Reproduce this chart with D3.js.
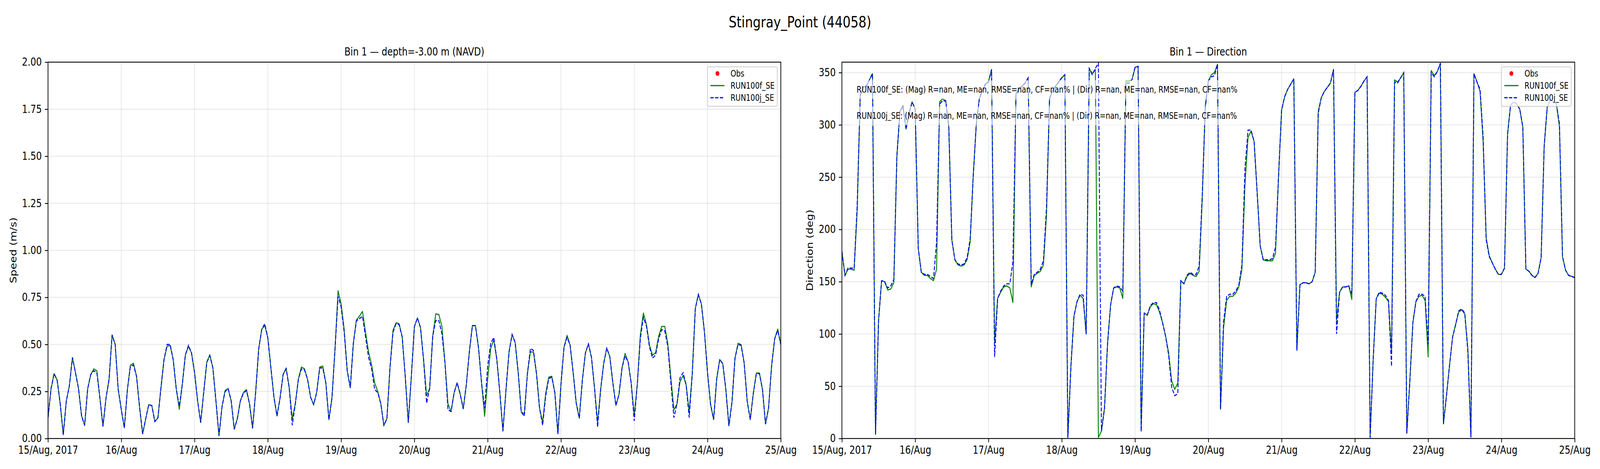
<!DOCTYPE html>
<html>
  <head>
    <meta charset="UTF-8" />
    <style>
      html,
      body {
        margin: 0;
        background: #fff;
        overflow: hidden;
      }
      svg {
        display: block;
        width: 100vw;
        height: 100vh;
        font-family: 'DejaVu Sans', sans-serif;
      }
    </style>
  </head>
  <body>
    <svg></svg>

    <script src="https://d3js.org/d3.v7.min.js"></script>

    <script>
      let width = 5000,
        height = 1200

      let stationTitle = 'Stingray_Point (44058)'
      let speedTitle = 'Bin 1 \u2014 depth=-3.00 m (NAVD)'
      let dirTitle = 'Bin 1 \u2014 Direction'
      let legendNames = ['Obs', 'RUN100f_SE', 'RUN100j_SE']
      let statLines = [
        'RUN100f_SE: (Mag) R=nan, ME=nan, RMSE=nan, CF=nan% | (Dir) R=nan, ME=nan, RMSE=nan, CF=nan%',
        'RUN100j_SE: (Mag) R=nan, ME=nan, RMSE=nan, CF=nan% | (Dir) R=nan, ME=nan, RMSE=nan, CF=nan%',
      ]

      let dayLabels = ['15/Aug, 2017', '16/Aug', '17/Aug', '18/Aug', '19/Aug', '20/Aug', '21/Aug', '22/Aug', '23/Aug', '24/Aug', '25/Aug']
      let speedTicks = [0, 0.25, 0.5, 0.75, 1, 1.25, 1.5, 1.75, 2]
      let dirTicks = [0, 50, 100, 150, 200, 250, 300, 350]

      // hourly values, 15/Aug 00:00 -> 25/Aug 00:00 (one row per day)
      let obsSpeed = []
      let obsDir = []

      let speedF = [
        0.11, 0.265, 0.345, 0.31, 0.185, 0.02, 0.2, 0.28, 0.43, 0.35, 0.265, 0.12, 0.07, 0.265, 0.34, 0.37, 0.36, 0.215, 0.065, 0.215, 0.315, 0.55, 0.5, 0.26,
        0.155, 0.057, 0.26, 0.39, 0.4, 0.33, 0.165, 0.025, 0.105, 0.18, 0.175, 0.09, 0.11, 0.27, 0.42, 0.49, 0.495, 0.42, 0.265, 0.155, 0.29, 0.445, 0.49, 0.455,
        0.35, 0.2, 0.085, 0.245, 0.405, 0.445, 0.375, 0.2, 0.015, 0.17, 0.255, 0.265, 0.2, 0.05, 0.105, 0.2, 0.245, 0.26, 0.185, 0.055, 0.245, 0.475, 0.58, 0.6,
        0.535, 0.375, 0.22, 0.12, 0.215, 0.34, 0.375, 0.27, 0.105, 0.185, 0.315, 0.38, 0.37, 0.315, 0.22, 0.18, 0.245, 0.38, 0.385, 0.295, 0.1, 0.215, 0.475, 0.785,
        0.715, 0.58, 0.36, 0.27, 0.505, 0.63, 0.65, 0.675, 0.565, 0.46, 0.39, 0.295, 0.25, 0.185, 0.07, 0.105, 0.375, 0.575, 0.615, 0.61, 0.54, 0.33, 0.085, 0.33,
        0.595, 0.641, 0.589, 0.42, 0.227, 0.267, 0.544, 0.662, 0.659, 0.596, 0.406, 0.184, 0.143, 0.243, 0.296, 0.236, 0.158, 0.285, 0.461, 0.6, 0.6, 0.482, 0.295, 0.118,
        0.316, 0.479, 0.524, 0.42, 0.24, 0.04, 0.26, 0.461, 0.553, 0.51, 0.35, 0.141, 0.132, 0.343, 0.461, 0.459, 0.343, 0.16, 0.087, 0.24, 0.326, 0.331, 0.243, 0.025,
        0.288, 0.485, 0.548, 0.496, 0.35, 0.188, 0.108, 0.309, 0.454, 0.503, 0.43, 0.267, 0.085, 0.26, 0.399, 0.48, 0.435, 0.295, 0.176, 0.233, 0.375, 0.452, 0.407, 0.295,
        0.122, 0.288, 0.551, 0.667, 0.607, 0.496, 0.443, 0.456, 0.544, 0.596, 0.596, 0.503, 0.323, 0.153, 0.184, 0.302, 0.335, 0.285, 0.143, 0.343, 0.69, 0.766, 0.714, 0.565,
        0.35, 0.181, 0.101, 0.316, 0.42, 0.397, 0.26, 0.068, 0.191, 0.427, 0.506, 0.499, 0.402, 0.198, 0.101, 0.24, 0.348, 0.348, 0.26, 0.077, 0.163, 0.389, 0.53, 0.582,
        0.499,
      ]

      let speedJ = [
        0.11, 0.265, 0.345, 0.31, 0.185, 0.02, 0.2, 0.28, 0.43, 0.35, 0.265, 0.12, 0.07, 0.265, 0.34, 0.36, 0.35, 0.215, 0.065, 0.215, 0.315, 0.55, 0.5, 0.26,
        0.155, 0.057, 0.26, 0.385, 0.39, 0.33, 0.165, 0.025, 0.105, 0.18, 0.175, 0.09, 0.11, 0.27, 0.42, 0.5, 0.5, 0.42, 0.265, 0.17, 0.29, 0.445, 0.495, 0.455,
        0.35, 0.2, 0.085, 0.245, 0.405, 0.44, 0.375, 0.2, 0.015, 0.17, 0.25, 0.265, 0.2, 0.05, 0.105, 0.2, 0.24, 0.255, 0.185, 0.055, 0.245, 0.475, 0.58, 0.61,
        0.535, 0.375, 0.22, 0.12, 0.215, 0.34, 0.37, 0.27, 0.07, 0.185, 0.315, 0.37, 0.365, 0.315, 0.22, 0.18, 0.245, 0.375, 0.375, 0.295, 0.1, 0.215, 0.475, 0.755,
        0.7, 0.565, 0.36, 0.27, 0.505, 0.625, 0.637, 0.65, 0.54, 0.43, 0.37, 0.26, 0.245, 0.185, 0.07, 0.105, 0.375, 0.565, 0.61, 0.605, 0.54, 0.33, 0.085, 0.33,
        0.595, 0.641, 0.589, 0.42, 0.188, 0.267, 0.544, 0.627, 0.627, 0.558, 0.406, 0.153, 0.143, 0.243, 0.296, 0.236, 0.158, 0.285, 0.461, 0.6, 0.6, 0.482, 0.295, 0.16,
        0.385, 0.506, 0.537, 0.42, 0.24, 0.04, 0.26, 0.461, 0.553, 0.51, 0.35, 0.141, 0.118, 0.343, 0.479, 0.468, 0.343, 0.16, 0.07, 0.226, 0.319, 0.326, 0.243, 0.025,
        0.288, 0.485, 0.537, 0.496, 0.35, 0.188, 0.108, 0.309, 0.454, 0.503, 0.43, 0.267, 0.06, 0.26, 0.399, 0.48, 0.435, 0.295, 0.176, 0.233, 0.375, 0.44, 0.407, 0.295,
        0.094, 0.288, 0.53, 0.645, 0.596, 0.485, 0.427, 0.444, 0.53, 0.579, 0.572, 0.489, 0.295, 0.111, 0.184, 0.323, 0.35, 0.285, 0.111, 0.343, 0.69, 0.766, 0.714, 0.565,
        0.35, 0.181, 0.101, 0.316, 0.42, 0.397, 0.26, 0.068, 0.191, 0.427, 0.5, 0.495, 0.402, 0.198, 0.101, 0.24, 0.345, 0.345, 0.26, 0.077, 0.163, 0.389, 0.53, 0.575,
        0.499,
      ]

      let dirF = [
        179, 156, 162, 162, 161, 218, 328, 336, 337, 343, 349, 4, 113, 151, 150, 142, 143, 149, 270, 313, 318, 296, 311, 322,
        315, 182, 159, 156, 156, 153, 151, 162, 322, 325, 323, 298, 190, 171, 166, 165, 166, 171, 188, 251, 300, 325, 333, 339,
        341, 353, 92, 134, 140, 145, 146, 144, 130, 330, 334, 337, 340, 345, 145, 156, 158, 160, 166, 214, 325, 333, 337, 341,
        345, 348, 1, 69, 117, 131, 137, 134, 100, 354, 349, 353, 1, 7, 29, 91, 128, 144, 145, 144, 134, 342, 342, 343,
        355, 356, 7, 120, 118, 126, 129, 128, 121, 111, 98, 82, 55, 47, 53, 151, 148, 155, 158, 156, 155, 160, 228, 318,
        342, 348, 350, 358, 28, 106, 132, 136, 136, 139, 145, 162, 242, 288, 294, 284, 235, 184, 171, 170, 170, 170, 177, 251,
        314, 327, 334, 339, 344, 85, 147, 149, 149, 148, 150, 159, 313, 326, 332, 336, 340, 353, 113, 140, 145, 145, 146, 133,
        331, 333, 337, 342, 346, 1, 76, 134, 139, 138, 135, 131, 83, 343, 341, 345, 350, 5, 55, 111, 131, 136, 137, 132,
        78, 352, 347, 351, 359, 14, 41, 70, 97, 109, 121, 123, 119, 86, 2, 349, 341, 332, 284, 192, 175, 168, 162, 157,
        157, 163, 291, 319, 322, 320, 315, 298, 162, 160, 156, 154, 158, 173, 280, 317, 324, 322, 320, 298, 174, 161, 156, 155,
        154,
      ]

      let dirJ = [
        179, 156, 163, 163, 163, 223, 328, 336, 337, 343, 349, 4, 113, 151, 150, 144, 146, 152, 270, 313, 318, 296, 311, 322,
        315, 182, 159, 157, 157, 155, 153, 188, 320, 323, 323, 298, 190, 171, 167, 166, 167, 173, 191, 251, 300, 325, 333, 339,
        341, 353, 78, 134, 141, 146, 148, 148, 169, 328, 334, 337, 340, 345, 147, 157, 159, 162, 170, 221, 325, 333, 337, 341,
        345, 348, 1, 69, 117, 131, 138, 137, 100, 354, 348, 354, 359, 7, 29, 91, 128, 144, 146, 145, 141, 340, 340, 343,
        355, 356, 7, 120, 118, 127, 130, 130, 123, 111, 98, 80, 49, 41, 43, 151, 148, 156, 159, 157, 157, 165, 232, 316,
        342, 346, 347, 358, 28, 112, 136, 138, 138, 141, 147, 166, 258, 295, 295, 284, 235, 184, 171, 171, 171, 172, 183, 251,
        314, 327, 334, 339, 344, 84, 147, 149, 149, 148, 150, 159, 311, 326, 332, 336, 340, 353, 100, 140, 145, 145, 146, 138,
        331, 333, 337, 342, 346, 1, 76, 134, 140, 139, 137, 132, 69, 341, 340, 345, 350, 5, 55, 111, 131, 138, 138, 136,
        90, 350, 346, 351, 359, 14, 41, 70, 97, 109, 122, 124, 120, 83, 1, 349, 341, 334, 289, 190, 174, 168, 162, 157,
        157, 163, 291, 319, 322, 320, 315, 298, 162, 160, 156, 154, 158, 173, 280, 317, 324, 322, 320, 301, 174, 161, 156, 155,
        154,
      ]

      let times = speedF.map((d, i) => new Date(Date.UTC(2017, 7, 15, i)))
      let dayTicks = dayLabels.map((d, i) => new Date(Date.UTC(2017, 7, 15 + i)))

      let panelW = 2290,
        panelH = 963,
        panelTop = 159,
        tickLen = 9.7,
        fontTick = 27.8,
        fontSmall = 22.2,
        lw = 2.8

      // the drawing is laid out at 5000x1200 and stretched to the viewport
      let svg = d3
        .select('svg')
        .attr('viewBox', '0 0 ' + width + ' ' + height)
        .attr('preserveAspectRatio', 'none')

      svg
        .append('text')
        .attr('x', width / 2)
        .attr('y', 70)
        .attr('text-anchor', 'middle')
        .attr('font-size', 38.9)
        .text(stationTitle)

      let x = d3
        .scaleUtc()
        .domain([dayTicks[0], dayTicks[dayTicks.length - 1]])
        .range([0, panelW])

      function drawPanel(opt) {
        let g = svg
          .append('g')
          .attr('transform', 'translate(' + opt.left + ',' + panelTop + ')')
        let y = d3.scaleLinear().domain(opt.domain).range([panelH, 0])

        g.append('clipPath')
          .attr('id', opt.id + '-clip')
          .append('rect')
          .attr('width', panelW)
          .attr('height', panelH)

        // grid
        let grid = g.append('g').attr('stroke', '#b0b0b0').attr('stroke-opacity', 0.3).attr('stroke-width', 2.2)
        grid
          .selectAll('.gx')
          .data(dayTicks)
          .enter()
          .append('line')
          .attr('x1', (d) => x(d))
          .attr('x2', (d) => x(d))
          .attr('y1', 0)
          .attr('y2', panelH)
        grid
          .selectAll('.gy')
          .data(opt.ticks)
          .enter()
          .append('line')
          .attr('x1', 0)
          .attr('x2', panelW)
          .attr('y1', (d) => y(d))
          .attr('y2', (d) => y(d))

        let line = d3
          .line()
          .x((d, i) => x(times[i]))
          .y((d) => y(d))

        let plot = g.append('g').attr('clip-path', 'url(#' + opt.id + '-clip)')
        plot
          .selectAll('circle')
          .data(opt.obs)
          .enter()
          .append('circle')
          .attr('cx', (d, i) => x(times[i]))
          .attr('cy', (d) => y(d))
          .attr('r', 6)
          .attr('fill', 'red')
        plot
          .append('path')
          .attr('d', line(opt.f))
          .attr('fill', 'none')
          .attr('stroke', 'green')
          .attr('stroke-width', lw)
          .attr('stroke-linejoin', 'round')
        plot
          .append('path')
          .attr('d', line(opt.j))
          .attr('fill', 'none')
          .attr('stroke', 'blue')
          .attr('stroke-width', lw)
          .attr('stroke-dasharray', '10.3,4.4')

        // axes
        let xAxis = d3
          .axisBottom(x)
          .tickValues(dayTicks)
          .tickFormat((d, i) => dayLabels[i])
          .tickSize(tickLen)
          .tickPadding(tickLen)
        let yAxis = d3
          .axisLeft(y)
          .tickValues(opt.ticks)
          .tickFormat(opt.format)
          .tickSize(tickLen)
          .tickPadding(tickLen)

        g.append('g')
          .attr('transform', 'translate(0,' + panelH + ')')
          .call(xAxis)
          .call((a) => a.select('.domain').remove())
          .attr('font-size', fontTick)
          .attr('font-family', null)
          .call((a) => a.selectAll('line').attr('stroke-width', 2.2))
        g.append('g')
          .call(yAxis)
          .call((a) => a.select('.domain').remove())
          .attr('font-size', fontTick)
          .attr('font-family', null)
          .call((a) => a.selectAll('line').attr('stroke-width', 2.2))

        g.append('rect')
          .attr('width', panelW)
          .attr('height', panelH)
          .attr('fill', 'none')
          .attr('stroke', 'black')
          .attr('stroke-width', 2.2)

        g.append('text')
          .attr('x', panelW / 2)
          .attr('y', -17)
          .attr('text-anchor', 'middle')
          .attr('font-size', fontTick)
          .text(opt.title)

        g.append('text')
          .attr('transform', 'translate(' + opt.labelX + ',' + panelH / 2 + ') rotate(-90)')
          .attr('text-anchor', 'middle')
          .attr('font-size', fontTick)
          .text(opt.label)

        // stats boxes
        if (opt.stats) {
          opt.stats.forEach((s, i) => {
            let sg = g.append('g')
            let t = sg
              .append('text')
              .attr('x', 46)
              .attr('y', 78 + i * 67)
              .attr('font-size', fontSmall)
              .text(s)
            let bb = t.node().getBBox()
            sg.insert('rect', 'text')
              .attr('x', bb.x - 11)
              .attr('y', bb.y - 11)
              .attr('width', bb.width + 22)
              .attr('height', bb.height + 22)
              .attr('fill', 'white')
              .attr('fill-opacity', 0.6)
          })
        }

        // legend
        let lg = g.append('g').attr('transform', 'translate(' + (panelW - 229) + ',12)')
        lg.append('rect')
          .attr('width', 218)
          .attr('height', 101)
          .attr('rx', 4.4)
          .attr('fill', 'white')
          .attr('fill-opacity', 0.8)
          .attr('stroke', '#cccccc')
          .attr('stroke-width', 2.2)
        let rows = lg
          .selectAll('.row')
          .data(legendNames)
          .enter()
          .append('g')
          .attr('transform', (d, i) => 'translate(0,' + (17 + i * 31) + ')')
        rows
          .filter((d, i) => i == 0)
          .append('circle')
          .attr('cx', 31)
          .attr('r', 6)
          .attr('fill', 'red')
        rows
          .filter((d, i) => i > 0)
          .append('line')
          .attr('x1', 9)
          .attr('x2', 53)
          .attr('stroke', (d, i) => (i == 0 ? 'green' : 'blue'))
          .attr('stroke-width', lw)
          .attr('stroke-dasharray', (d, i) => (i == 0 ? null : '10.3,4.4'))
        rows
          .append('text')
          .attr('x', 72)
          .attr('dy', '0.35em')
          .attr('font-size', fontSmall)
          .text((d) => d)
      }

      drawPanel({
        id: 'speed',
        left: 150,
        domain: [0, 2],
        ticks: speedTicks,
        format: d3.format('.2f'),
        obs: obsSpeed,
        f: speedF,
        j: speedJ,
        title: speedTitle,
        label: 'Speed (m/s)',
        labelX: -99,
      })

      drawPanel({
        id: 'dir',
        left: 2631,
        domain: [0, 360],
        ticks: dirTicks,
        format: d3.format('d'),
        obs: obsDir,
        f: dirF,
        j: dirJ,
        title: dirTitle,
        label: 'Direction (deg)',
        labelX: -91,
        stats: statLines,
      })
    </script>
  </body>
</html>
